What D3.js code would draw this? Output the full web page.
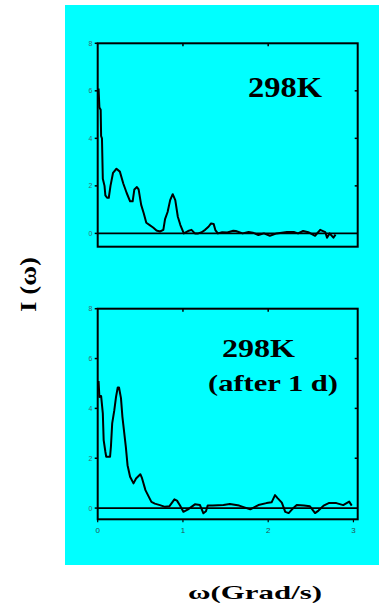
<!DOCTYPE html>
<html>
<head>
<meta charset="utf-8">
<script src="https://cdn.jsdelivr.net/npm/d3@7"></script>
<style>
  body { margin: 0; background: #ffffff; }
  svg { display: block; }
</style>
</head>
<body>
<div id="chart"></div>
<script>
// Spectrum I(w), w in Grad/s
const omegaTop = [0.01, 0.02, 0.035, 0.04, 0.05, 0.06, 0.08, 0.09, 0.11, 0.13, 0.15, 0.18, 0.22, 0.26, 0.30,
    0.34, 0.38, 0.41, 0.43, 0.46, 0.48, 0.51, 0.54, 0.57, 0.61, 0.65, 0.69, 0.73, 0.77, 0.79, 0.82, 0.85,
    0.88, 0.91, 0.94, 0.97, 1.01, 1.06, 1.10, 1.14, 1.18, 1.22, 1.26, 1.30, 1.33, 1.36, 1.38, 1.41, 1.46,
    1.52, 1.59, 1.62, 1.70, 1.77, 1.82, 1.885, 1.95, 2.02, 2.10, 2.22, 2.30, 2.35, 2.41, 2.47, 2.55, 2.61,
    2.67, 2.69, 2.72, 2.765, 2.79];
const intensityTop = [6.1, 5.3, 5.2, 4.1, 4.0, 2.3, 2.0, 1.6, 1.5, 1.5, 2.0, 2.55, 2.72, 2.6, 2.1,
    1.7, 1.35, 1.35, 1.85, 1.95, 1.85, 1.2, 0.85, 0.45, 0.35, 0.25, 0.12, 0.08, 0.15, 0.6, 0.9, 1.4,
    1.65, 1.4, 0.7, 0.35, 0.0, 0.1, 0.15, 0.0, 0.0, 0.05, 0.15, 0.28, 0.42, 0.4, 0.14, 0.0, 0.05,
    0.04, 0.11, 0.1, 0.0, 0.06, 0.03, -0.07, 0.0, -0.1, 0.0, 0.06, 0.06, 0.0, 0.1, 0.05, -0.1, 0.15,
    0.05, -0.18, 0.0, -0.18, -0.05];

const omegaBottom = [0.01, 0.02, 0.04, 0.06, 0.07, 0.09, 0.10, 0.12, 0.145, 0.155, 0.17, 0.195, 0.215, 0.235,
    0.25, 0.273, 0.29, 0.31, 0.33, 0.35, 0.38, 0.42, 0.45, 0.50, 0.52, 0.56, 0.60, 0.63, 0.67, 0.73, 0.79,
    0.84, 0.90, 0.93, 0.966, 1.005, 1.06, 1.10, 1.14, 1.20, 1.24, 1.27, 1.29, 1.35, 1.475, 1.55, 1.66,
    1.79, 1.885, 1.98, 2.04, 2.08, 2.11, 2.16, 2.20, 2.24, 2.28, 2.335, 2.42, 2.49, 2.55, 2.59, 2.65,
    2.71, 2.80, 2.88, 2.95, 2.98];
const intensityBottom = [5.1, 4.46, 4.5, 3.8, 2.73, 2.26, 2.06, 2.06, 2.06, 2.46, 3.4, 3.93, 4.46, 4.84,
    4.84, 4.41, 3.66, 3.06, 2.46, 1.72, 1.26, 0.99, 1.19, 1.36, 1.2, 0.72, 0.45, 0.25, 0.18, 0.12, 0.05,
    0.07, 0.35, 0.3, 0.1, -0.15, -0.05, 0.05, 0.15, 0.12, -0.21, -0.13, 0.1, 0.1, 0.12, 0.16, 0.1,
    -0.05, 0.12, 0.2, 0.23, 0.52, 0.4, 0.22, -0.15, -0.2, -0.05, 0.12, 0.1, 0.07, -0.2, -0.1, 0.1,
    0.2, 0.2, 0.12, 0.26, 0.1];

const yTickValues = [0, 2, 4, 6, 8];
const xTickValues = [0, 1, 2, 3];

const width = 379;
const height = 611;

const svg = d3.select("#chart")
    .append("svg")
    .attr("width", width)
    .attr("height", height);

// white page, cyan slide area
svg.append("rect")
    .attr("width", width).attr("height", height)
    .attr("fill", "#ffffff");
svg.append("rect")
    .attr("x", 65).attr("y", 5)
    .attr("width", 314).attr("height", 560)
    .attr("fill", "#00ffff");

const xScale = d3.scaleLinear().domain([0, 3.05]).range([97.7, 357.7]);

function drawPanel(top, bottom, yMin, omega, intensity, showXLabels) {
    // 8 sits on the top border, yMin on the bottom border
    const yScale = d3.scaleLinear().domain([yMin, 8]).range([bottom, top]);
    const g = svg.append("g");

    // tick labels on the left
    g.selectAll(".ylab")
        .data(yTickValues)
        .enter()
        .append("text")
        .attr("x", 92.5)
        .attr("y", d => yScale(d))
        .attr("dy", "0.35em")
        .attr("text-anchor", "end")
        .style("font-family", "Liberation Sans, Arial, sans-serif")
        .style("font-size", "7px")
        .style("fill", "#3d6e6e")
        .text(d => d);

    // tick marks left (out), right (in)
    g.selectAll(".ytick")
        .data(yTickValues)
        .enter()
        .append("line")
        .attr("x1", xScale(0) - 3).attr("x2", xScale(0))
        .attr("y1", d => yScale(d)).attr("y2", d => yScale(d))
        .attr("stroke", "#000").attr("stroke-width", 1.5);
    g.selectAll(".ytickr")
        .data(yTickValues.slice(1, 4))
        .enter()
        .append("line")
        .attr("x1", xScale(3.05) - 3).attr("x2", xScale(3.05))
        .attr("y1", d => yScale(d)).attr("y2", d => yScale(d))
        .attr("stroke", "#000").attr("stroke-width", 1.5);

    // top ticks (in) and bottom ticks
    g.selectAll(".xtickt")
        .data(xTickValues.slice(1, 3))
        .enter()
        .append("line")
        .attr("x1", d => xScale(d)).attr("x2", d => xScale(d))
        .attr("y1", top).attr("y2", top + 3)
        .attr("stroke", "#000").attr("stroke-width", 1.5);

    if (showXLabels) {
        g.selectAll(".xtickb")
            .data(xTickValues)
            .enter()
            .append("line")
            .attr("x1", d => xScale(d)).attr("x2", d => xScale(d))
            .attr("y1", bottom).attr("y2", bottom + 3)
            .attr("stroke", "#000").attr("stroke-width", 1.2);
        g.selectAll(".xlab")
            .data(xTickValues)
            .enter()
            .append("text")
            .attr("x", d => xScale(d))
            .attr("y", bottom + 14)
            .attr("text-anchor", "middle")
            .style("font-family", "Liberation Sans, Arial, sans-serif")
            .style("font-size", "8px")
            .style("fill", "#2a4f4f")
            .text(d => d);
    }

    // zero line
    g.append("line")
        .attr("x1", xScale(0)).attr("x2", xScale(3.05))
        .attr("y1", yScale(0)).attr("y2", yScale(0))
        .attr("stroke", "#000").attr("stroke-width", 1.6);

    // spectrum
    const pts = omega.map((w, i) => [w, intensity[i]]);
    g.append("path")
        .datum(pts)
        .attr("fill", "none")
        .attr("stroke", "#000")
        .attr("stroke-width", 2)
        .attr("stroke-linejoin", "round")
        .attr("d", d3.line().x(d => xScale(d[0])).y(d => yScale(d[1])));

    // frame
    g.append("rect")
        .attr("x", xScale(0)).attr("y", top)
        .attr("width", xScale(3.05) - xScale(0))
        .attr("height", bottom - top)
        .attr("fill", "none")
        .attr("stroke", "#000")
        .attr("stroke-width", 2);

    return g;
}

const topPanel = drawPanel(43.3, 246.7, -0.56, omegaTop, intensityTop, false);
const bottomPanel = drawPanel(308.7, 519.3, -0.45, omegaBottom, intensityBottom, true);

const serif = "Liberation Serif, Times New Roman, serif";

topPanel.append("text")
    .attr("x", 285).attr("y", 97)
    .attr("text-anchor", "middle")
    .attr("textLength", 74).attr("lengthAdjust", "spacingAndGlyphs")
    .style("font-family", serif).style("font-weight", "bold").style("font-size", "29px")
    .text("298K");

bottomPanel.append("text")
    .attr("x", 258.5).attr("y", 357)
    .attr("text-anchor", "middle")
    .attr("textLength", 73).attr("lengthAdjust", "spacingAndGlyphs")
    .style("font-family", serif).style("font-weight", "bold").style("font-size", "26px")
    .text("298K");

bottomPanel.append("text")
    .attr("x", 273).attr("y", 391)
    .attr("text-anchor", "middle")
    .attr("textLength", 130).attr("lengthAdjust", "spacingAndGlyphs")
    .style("font-family", serif).style("font-weight", "bold").style("font-size", "24px")
    .text("(after 1 d)");

// axis titles
svg.append("text")
    .attr("transform", "translate(36,284.5) rotate(-90)")
    .attr("text-anchor", "middle")
    .attr("textLength", 55).attr("lengthAdjust", "spacingAndGlyphs")
    .style("font-family", serif).style("font-weight", "bold").style("font-size", "24px")
    .text("I (ω)");

svg.append("text")
    .attr("x", 255).attr("y", 599)
    .attr("text-anchor", "middle")
    .attr("textLength", 134).attr("lengthAdjust", "spacingAndGlyphs")
    .style("font-family", serif).style("font-weight", "bold").style("font-size", "19px")
    .text("ω(Grad/s)");
</script>
</body>
</html>
